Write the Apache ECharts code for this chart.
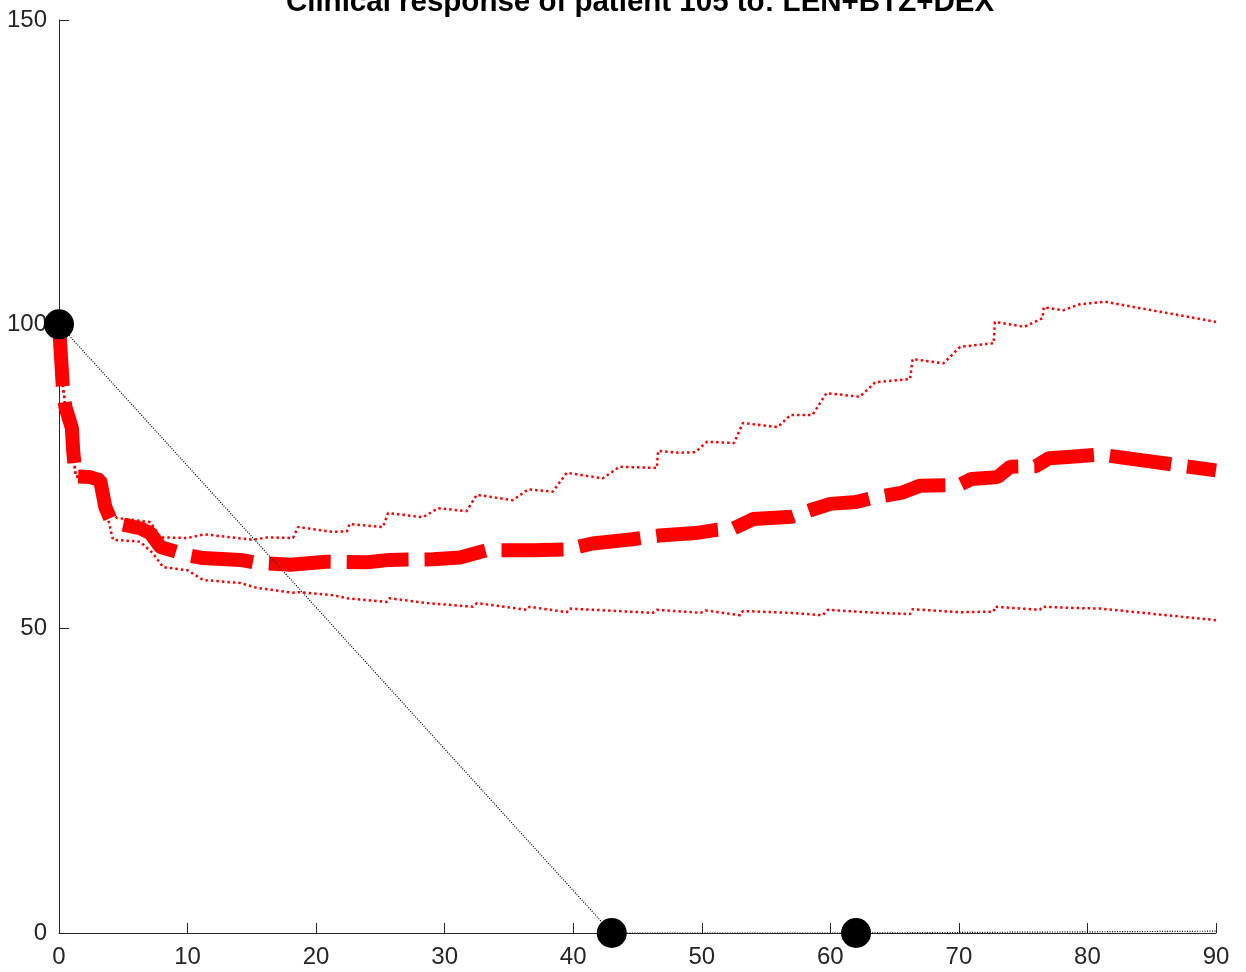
<!DOCTYPE html>
<html>
<head>
<meta charset="utf-8">
<script src="https://cdn.jsdelivr.net/npm/echarts@6/dist/echarts.min.js"></script>
<style>
html,body{margin:0;padding:0;background:#fff;}
#chart{width:1246px;height:972px;}
</style>
</head>
<body>
<div id="chart"></div>
<script>
// ---- data ----
const titleText = 'Clinical response of patient 105 to: LEN+BTZ+DEX';
const xTicks = [0, 10, 20, 30, 40, 50, 60, 70, 80, 90];
const yTicks = [0, 50, 100, 150];

const meanX = [0, 0.3, 0.5, 1, 1.1, 1.3, 2.4, 3.2, 3.6, 4.1, 6.3, 7.1, 7.9, 10, 11.2, 14.1, 15.4, 18, 20.8, 24, 25.7, 29.1, 31.2, 33.3, 36.9, 39.5, 41.5, 44.6, 46.7, 49.5, 51, 52.5, 54, 57, 58.5, 60, 62, 63.5, 65.5, 67, 70, 71, 73, 74, 76, 77, 79, 81, 90];
const meanY = [100, 89.7, 86.4, 83, 79.3, 75, 74.9, 74.4, 70, 67.5, 66.5, 65.7, 63.4, 62.1, 61.6, 61.3, 60.8, 60.5, 61, 60.9, 61.3, 61.4, 61.7, 62.9, 62.9, 63, 64, 64.7, 65.3, 65.7, 66.2, 66.5, 68, 68.4, 69.5, 70.5, 70.8, 71.6, 72.3, 73.5, 73.6, 74.6, 74.9, 76.6, 76.7, 78, 78.3, 78.6, 76];

const upperX = [0, 0.3, 0.5, 1, 1.1, 1.3, 2.4, 3.2, 3.6, 4.5, 7.1, 7.9, 10, 11.3, 15.1, 16.2, 18.2, 18.6, 21.3, 22.4, 22.6, 25.2, 25.6, 28.3, 29.5, 31.7, 32.5, 35.3, 36.5, 38.4, 39.5, 42.3, 43.6, 46.5, 46.6, 48.3, 49.5, 50.4, 52.5, 53.2, 55.9, 56.9, 58.6, 59.7, 62.3, 63.5, 66.2, 66.4, 68.8, 70.1, 72.7, 72.8, 75.1, 76.5, 76.6, 78.1, 79.4, 81.4, 90];
const upperY = [100, 90, 86.4, 83, 79.3, 75, 74.9, 74.4, 70, 68.2, 67.5, 65, 64.9, 65.5, 64.6, 65, 64.9, 66.7, 65.9, 66, 67.2, 66.7, 69, 68.3, 69.8, 69.3, 72, 71.1, 72.9, 72.5, 75.6, 74.7, 76.6, 76.4, 79.2, 78.9, 79, 80.7, 80.5, 83.8, 83.1, 85.1, 85.1, 88.7, 88.1, 90.5, 91, 94.3, 93.6, 96.3, 96.9, 100.4, 99.6, 101, 102.8, 102.3, 103.3, 103.7, 100.4];

const lowerX = [0, 0.3, 0.5, 1, 1.1, 1.3, 2.4, 3.2, 3.6, 4.2, 6.3, 7.3, 8.1, 10, 11.2, 14.1, 15.4, 18.2, 18.7, 21.3, 22.4, 25.5, 25.7, 28.6, 32.2, 32.5, 36.4, 36.6, 39.5, 39.7, 46.2, 46.5, 49.9, 50.3, 53, 53.2, 56.9, 59.4, 59.8, 63.6, 66.2, 66.4, 70.1, 72.7, 72.8, 76.3, 76.5, 79, 81, 90];
const lowerY = [100, 90, 86.4, 83, 79.3, 75, 74.9, 74.4, 70, 64.6, 64.3, 62.4, 60.1, 59.6, 58, 57.5, 56.7, 55.9, 56, 55.5, 55, 54.4, 55, 54.2, 53.6, 54.2, 53.1, 53.6, 52.7, 53.3, 52.6, 53.1, 52.6, 53, 52.2, 52.9, 52.6, 52.2, 53.1, 52.6, 52.4, 53.2, 52.7, 52.8, 53.6, 53.1, 53.6, 53.4, 53.3, 51.4];

const clinX = [0, 43, 62, 90];
const clinY = [100, 0, 0, 0.3];
const markerX = [0, 43, 62];
const markerY = [100, 0, 0];

const pairs = (xs, ys) => xs.map((x, i) => [x, ys[i]]);

const axisColor = '#262626';
const fontFam = 'Liberation Sans, Arial, Helvetica, sans-serif';

const chart = echarts.init(document.getElementById('chart'), null, {renderer: 'canvas'});
chart.setOption({
  animation: false,
  backgroundColor: '#fff',
  grid: {left: 59, right: 30, top: 20, bottom: 39, containLabel: false},
  graphic: [{
    type: 'text', x: 640, y: 3, z: 100,
    style: {text: titleText, font: 'bold 29.5px ' + fontFam, fill: '#000', textAlign: 'center', textVerticalAlign: 'middle'}
  }],
  xAxis: {
    type: 'value', min: 0, max: 90, interval: 10,
    axisLine: {show: true, lineStyle: {color: axisColor, width: 1}},
    axisTick: {show: true, inside: true, length: 10, lineStyle: {color: axisColor}},
    axisLabel: {fontSize: 24, color: axisColor, fontFamily: fontFam, margin: 12,
      formatter: v => xTicks.includes(v) ? String(v) : ''},
    splitLine: {show: false}
  },
  yAxis: {
    type: 'value', min: 0, max: 150, interval: 50,
    axisLine: {show: true, lineStyle: {color: axisColor, width: 1}},
    axisTick: {show: true, inside: true, length: 10, lineStyle: {color: axisColor}},
    axisLabel: {fontSize: 24, color: axisColor, fontFamily: fontFam, margin: 12,
      formatter: v => yTicks.includes(v) ? String(v) : ''},
    splitLine: {show: false}
  },
  series: [
    {type: 'line', data: pairs(upperX, upperY), showSymbol: false, z: 2,
      lineStyle: {color: '#ff0000', width: 2.5, type: [2.5, 3], cap: 'butt'}},
    {type: 'line', data: pairs(lowerX, lowerY), showSymbol: false, z: 2,
      lineStyle: {color: '#ff0000', width: 2.5, type: [2.5, 3], cap: 'butt'}},
    {type: 'line', data: pairs(meanX, meanY), showSymbol: false, z: 3,
      lineStyle: {color: '#ff0000', width: 14, type: [62, 16], cap: 'butt', join: 'bevel'}},
    {type: 'line', data: pairs(clinX, clinY), showSymbol: false, z: 4,
      lineStyle: {color: '#000', width: 1.2, type: [1, 1.5]}},
    {type: 'scatter', data: pairs(markerX, markerY), symbol: 'circle', symbolSize: 30, z: 5,
      itemStyle: {color: '#000', opacity: 1}, clip: false}
  ]
});
</script>
</body>
</html>
